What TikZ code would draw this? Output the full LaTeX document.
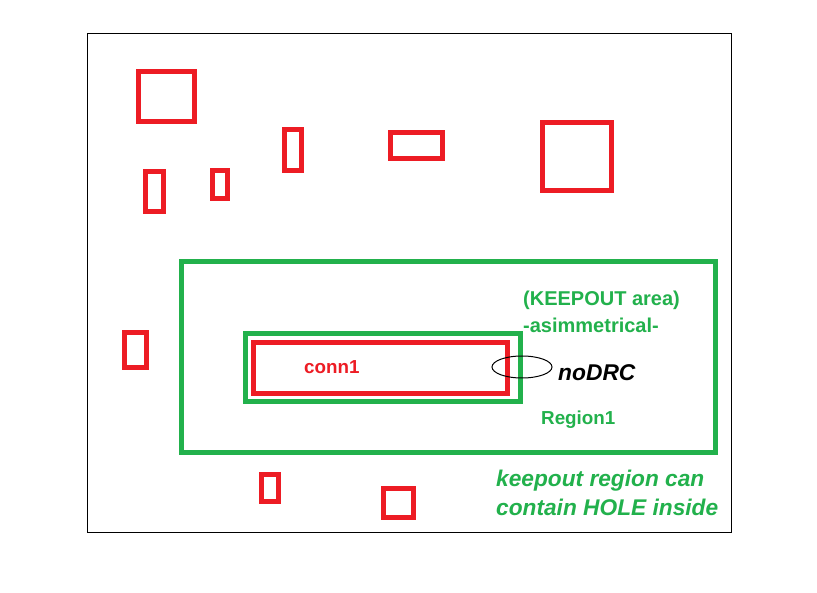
\documentclass[tikz,border=0pt]{standalone}
\usepackage{fontspec}
\setmainfont{Liberation Sans}
\definecolor{pred}{HTML}{ED1C24}
\definecolor{pgreen}{HTML}{22B14C}
\begin{document}
\begin{tikzpicture}[x=1pt,y=-1pt,
  redbox/.style={draw=pred,line width=5pt},
  greenbox/.style={draw=pgreen,line width=5pt},
  lbl/.style={anchor=west,inner sep=0pt,font=\bfseries\fontsize{20}{22}\selectfont},
  slbl/.style={anchor=west,inner sep=0pt,font=\bfseries\fontsize{18.8}{22}\selectfont},
  ilbl/.style={anchor=west,inner sep=0pt,font=\bfseries\itshape\fontsize{22.7}{26}\selectfont,align=left}]
\useasboundingbox (0,0) rectangle (817,593);
\fill[white] (0,0) rectangle (817,593);
\draw[line width=1pt] (87.5,33.5) rectangle (731.5,532.5);
% red components
\draw[redbox] (138.5,71.5) rectangle (194,121.5);
\draw[redbox] (145.5,171.5) rectangle (163.5,211.5);
\draw[redbox] (212.5,170.5) rectangle (227.5,198.5);
\draw[redbox] (284.5,129.5) rectangle (301.5,170.5);
\draw[redbox] (390.5,132.5) rectangle (442.5,158.5);
\draw[redbox] (542.5,122.5) rectangle (611.5,190.5);
\draw[redbox] (124.5,332.5) rectangle (146.5,367.5);
\draw[redbox] (261.5,474.5) rectangle (278.5,501.5);
\draw[redbox] (383.5,488.5) rectangle (413.5,517.5);
% regions
\draw[greenbox] (181.5,261.5) rectangle (715.5,452.5);
\draw[greenbox] (245,334) rectangle (520.5,401.5);
\draw[redbox] (253.5,342.5) rectangle (507.5,393.5);
\draw[line width=1pt] (522,367) ellipse [x radius=30,y radius=11];
% texts
\node[lbl,text=pgreen] (keep) at (523,300) {(KEEPOUT area)};
\node[lbl,text=pgreen] (asim) at (523,325) {-asimmetrical-};
\node[slbl,text=pred] (conn) at (304,367) {conn1};
\node[slbl,text=pgreen] (reg) at (541,420) {Region1};
\node[anchor=west,inner sep=0pt,font=\bfseries\itshape\fontsize{22.8}{26}\selectfont] (nodrc) at (558,373) {noDRC};
\node[ilbl,text=pgreen] (k1) at (496,481) {keepout region can};
\node[ilbl,text=pgreen] (k2) at (496,507) {contain HOLE inside};
\end{tikzpicture}
\end{document}
